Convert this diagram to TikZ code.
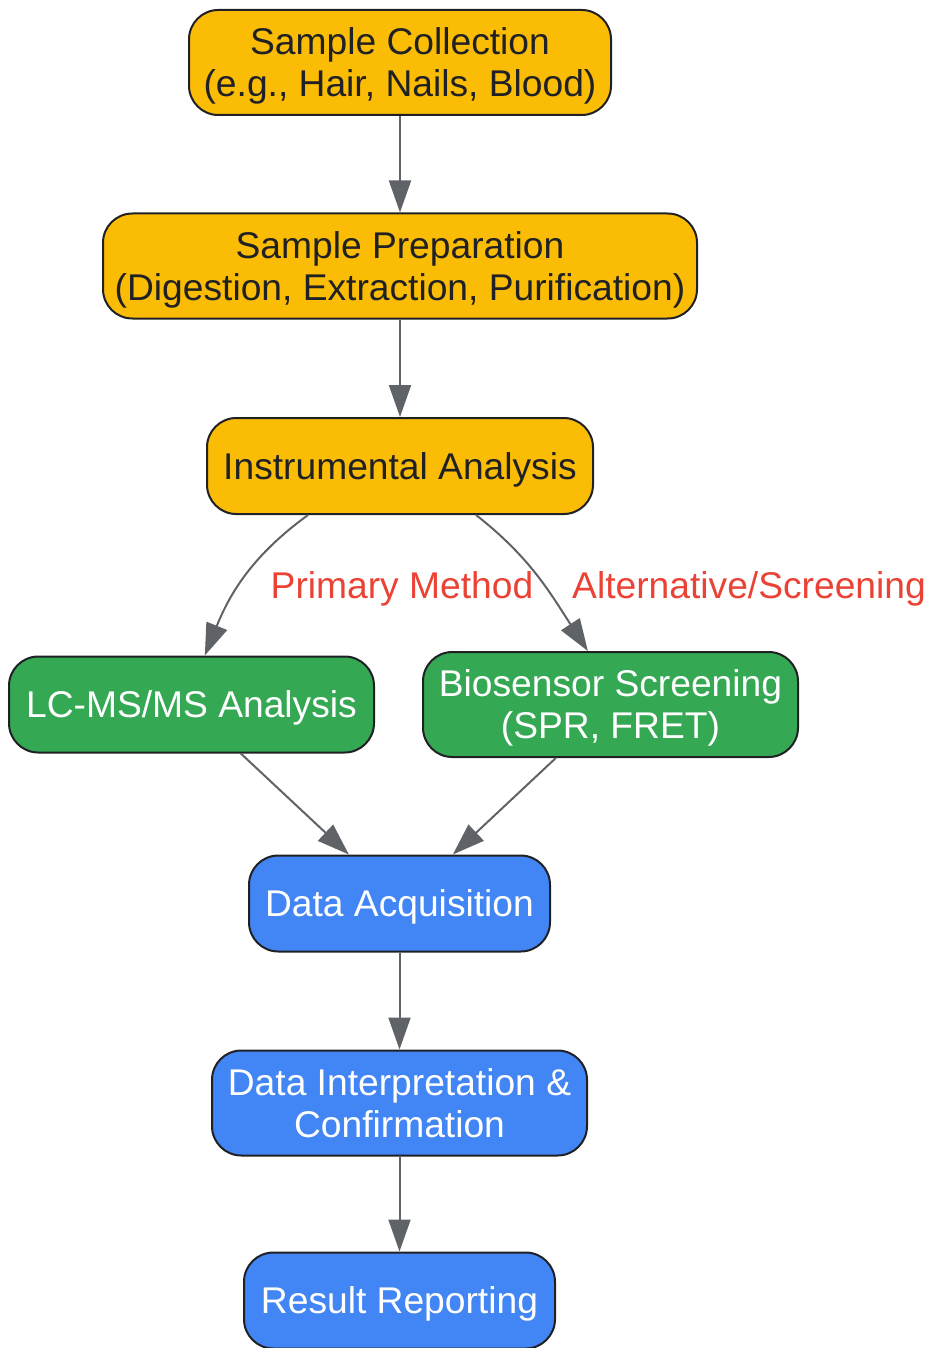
\documentclass[tikz,border=0pt]{standalone}
\usepackage{fontspec}
\setmainfont{Liberation Sans}
\usetikzlibrary{arrows.meta}

\definecolor{stepyellow}{HTML}{FBBC05}
\definecolor{stepgreen}{HTML}{34A853}
\definecolor{stepblue}{HTML}{4285F4}
\definecolor{edgegray}{HTML}{5F6368}
\definecolor{labelred}{HTML}{EA4335}
\definecolor{darktext}{HTML}{202124}

\tikzset{every picture/.style={line width=0.75pt}}
\tikzset{
  stagebox/.style={draw={rgb, 255:red, 32; green, 33; blue, 36}, line width=1.5pt, rounded corners=22pt,
    align=center, inner sep=0pt, text depth=0pt, font=\fontsize{27.9}{31.5}\selectfont},
  prepbox/.style={stagebox, fill=stepyellow, text=darktext},
  methbox/.style={stagebox, fill=stepgreen, text=white},
  databox/.style={stagebox, fill=stepblue, text=white},
  flow/.style={draw=edgegray, line width=1.5pt, -{Triangle[length=24pt,width=16.5pt]}},
  flowlabel/.style={text=labelred, font=\fontsize{27.9}{31.5}\selectfont, inner sep=0pt, text depth=0pt}
}

\begin{document}
\begin{tikzpicture}[x=0.75pt,y=0.75pt]
	\useasboundingbox (0,0) rectangle (927,-1348);

	% Preparation stages
	\node [prepbox, minimum width=316.5pt, minimum height=78.75pt] (sc) at (400,-62.5) {Sample Collection\\(e.g., Hair, Nails, Blood)};
	\node [prepbox, minimum width=445.5pt, minimum height=78.75pt] (sp) at (400,-266) {Sample Preparation\\(Digestion, Extraction, Purification)};
	\node [prepbox, minimum width=289.5pt, minimum height=72pt] (ia) at (400,-466) {Instrumental Analysis};

	% Methods
	\node [methbox, minimum width=273.75pt, minimum height=72pt] (lc) at (191.5,-704.5) {LC-MS/MS Analysis};
	\node [methbox, minimum width=281.25pt, minimum height=78.75pt] (bio) at (610.5,-704.5) {Biosensor Screening\\(SPR, FRET)};

	% Data stages
	\node [databox, minimum width=225.75pt, minimum height=72pt] (da) at (399.5,-903.5) {Data Acquisition};
	\node [databox, minimum width=281.25pt, minimum height=78.75pt] (di) at (399.5,-1103) {Data Interpretation \&\\Confirmation};
	\node [databox, minimum width=233.25pt, minimum height=72pt] (rr) at (399.5,-1300.5) {Result Reporting};

	% Edge labels
	\node [flowlabel] (primlbl) at (402,-585) {Primary Method};
	\node [flowlabel] (altlbl) at (749,-585) {Alternative/Screening};

	% Connectors
	\draw [flow] (sc) -- (sp);
	\draw [flow] (sp) -- (ia);
	\draw [flow] ([xshift=-69pt]ia.south) to[out=216, in=68] ([xshift=10pt]lc.north);
	\draw [flow] ([xshift=57pt]ia.south) to[out=-38, in=123] ([xshift=-17pt]bio.north);
	\draw [flow] ([xshift=37pt]lc.south) -- ([xshift=-38pt]da.north);
	\draw [flow] ([xshift=-41pt]bio.south) -- ([xshift=40pt]da.north);
	\draw [flow] (da) -- (di);
	\draw [flow] (di) -- (rr);

\end{tikzpicture}
\end{document}
